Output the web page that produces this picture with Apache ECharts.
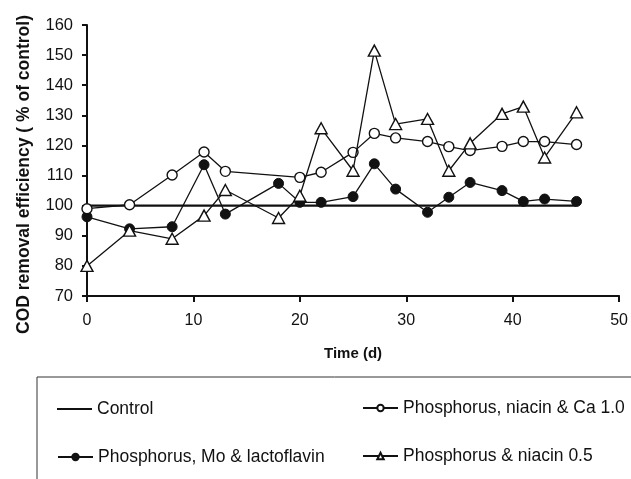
<!DOCTYPE html>
<html>
<head>
<meta charset="utf-8">
<script src="https://cdn.jsdelivr.net/npm/echarts@6/dist/echarts.min.js"></script>
<style>
  html, body { margin: 0; padding: 0; background: #fff; }
  #chart { width: 631px; height: 479px; }
</style>
</head>
<body>
<div id="chart"></div>
<script>
// data (time in days, COD removal efficiency % of control)
const controlDays = [0, 46];
const controlValues = [100, 100];

const caDays = [0, 4, 8, 11, 13, 20, 22, 25, 27, 29, 32, 34, 36, 39, 41, 43, 46];
const caValues = [99, 100.3, 110.2, 117.8, 111.4, 109.4, 111.1, 117.7, 124, 122.5, 121.3, 119.6, 118.3, 119.7, 121.3, 121.3, 120.3];

const moDays = [0, 4, 8, 11, 13, 18, 20, 22, 25, 27, 29, 32, 34, 36, 39, 41, 43, 46];
const moValues = [96.3, 92.3, 93, 113.6, 97.2, 107.4, 101.1, 101.1, 103, 113.9, 105.5, 97.8, 102.8, 107.7, 105, 101.4, 102.2, 101.4];

const niacinDays = [0, 4, 8, 11, 13, 18, 20, 22, 25, 27, 29, 32, 34, 36, 39, 41, 43, 46];
const niacinValues = [80, 91.7, 89, 96.7, 105.2, 95.9, 103.3, 125.7, 111.6, 151.5, 127.1, 128.8, 111.6, 120.7, 130.5, 132.9, 116, 131];

const seriesNames = ['Control', 'Phosphorus, Mo & lactoflavin', 'Phosphorus, niacin & Ca 1.0', 'Phosphorus & niacin 0.5'];
const xTicks = [0, 10, 20, 30, 40, 50];
const yTicks = [70, 80, 90, 100, 110, 120, 130, 140, 150, 160];

function pairs(xs, ys) {
  return xs.map((x, i) => [x, ys[i]]);
}

const ink = '#111';
const font = 'Liberation Sans, Arial, sans-serif';

let chart = echarts.init(document.getElementById('chart'));

function legendAt(name, left, top, icon) {
  let item = icon ? { name: name, icon: icon } : name;
  return {
    data: [item],
    left: left,
    top: top,
    itemWidth: 35,
    itemHeight: icon ? 2 : 8,
    itemGap: 2,
    textStyle: { color: ink, fontSize: 17.5, fontFamily: font },
    selectedMode: false
  };
}

let option = {
  backgroundColor: '#fff',
  animation: false,
  grid: { left: 87, right: 11, top: 25, bottom: 183 },
  legend: [
    legendAt(seriesNames[0], 52, 395, 'rect'),
    legendAt(seriesNames[1], 52, 443),
    legendAt(seriesNames[2], 357, 394),
    legendAt(seriesNames[3], 357, 442)
  ],
  graphic: [
    {
      type: 'rect',
      shape: { x: 37, y: 377, width: 700, height: 200 },
      style: { fill: 'none', stroke: '#333', lineWidth: 1 }
    }
  ],
  xAxis: {
    type: 'value',
    min: xTicks[0],
    max: xTicks[xTicks.length - 1],
    interval: 10,
    name: 'Time (d)',
    nameLocation: 'middle',
    nameGap: 50,
    nameTextStyle: { color: ink, fontSize: 15, fontWeight: 'bold', fontFamily: font },
    axisLine: { onZero: false, lineStyle: { color: ink, width: 2 } },
    axisTick: { show: true, length: 6, lineStyle: { color: ink, width: 2 } },
    axisLabel: { color: ink, fontSize: 16, fontFamily: font, margin: 17 },
    splitLine: { show: false }
  },
  yAxis: {
    type: 'value',
    min: yTicks[0],
    max: yTicks[yTicks.length - 1],
    interval: 10,
    name: 'COD removal efficiency ( % of control)',
    nameLocation: 'middle',
    nameGap: 54,
    nameTextStyle: { color: ink, fontSize: 17.5, fontWeight: 'bold', fontFamily: font, padding: [0, 28, 0, 0] },
    axisLine: { show: true, onZero: false, lineStyle: { color: ink, width: 2 } },
    axisTick: { show: true, length: 5, lineStyle: { color: ink, width: 2 } },
    axisLabel: { color: ink, fontSize: 16.5, fontFamily: font, margin: 14 },
    splitLine: { show: false }
  },
  series: [
    {
      name: seriesNames[0],
      type: 'line',
      data: pairs(controlDays, controlValues),
      symbol: 'none',
      lineStyle: { color: ink, width: 2.2 },
      itemStyle: { color: ink },
      z: 1
    },
    {
      name: seriesNames[1],
      type: 'line',
      data: pairs(moDays, moValues),
      symbol: 'circle',
      symbolSize: 10,
      lineStyle: { color: ink, width: 1.3 },
      itemStyle: { color: ink, borderColor: ink, borderWidth: 1 },
      z: 3
    },
    {
      name: seriesNames[2],
      type: 'line',
      data: pairs(caDays, caValues),
      symbol: 'circle',
      symbolSize: 10,
      lineStyle: { color: ink, width: 1.3 },
      itemStyle: { color: '#fff', borderColor: ink, borderWidth: 1.4 },
      z: 4
    },
    {
      name: seriesNames[3],
      type: 'line',
      data: pairs(niacinDays, niacinValues),
      symbol: 'path://M5,0 L10,9 L0,9 Z',
      symbolSize: [12, 11],
      lineStyle: { color: ink, width: 1.3 },
      itemStyle: { color: '#fff', borderColor: ink, borderWidth: 1.4 },
      z: 5
    }
  ]
};

chart.setOption(option);
</script>
</body>
</html>
